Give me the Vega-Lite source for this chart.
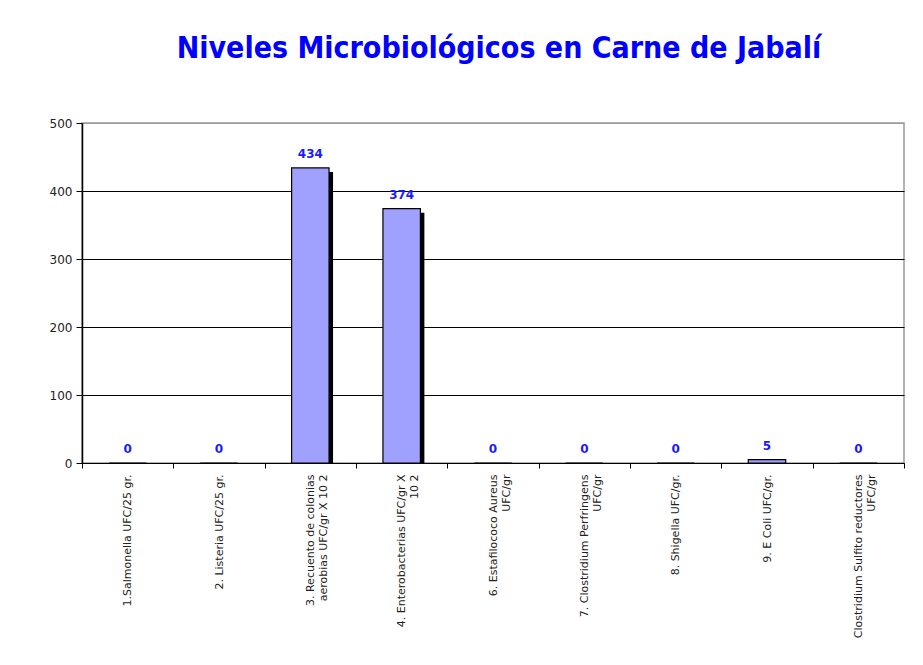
{
  "$schema": "https://vega.github.io/schema/vega-lite/v6.json",
  "autosize": {"type": "none"},
  "width": 822,
  "height": 340,
  "padding": {"left": 82, "top": 123, "right": 19, "bottom": 202},
  "background": "white",
  "title": {
    "text": "Niveles Microbiológicos en Carne de Jabalí",
    "font": "DejaVu Sans Condensed",
    "fontSize": 30,
    "fontWeight": "bold",
    "color": "#0000FF",
    "anchor": "middle",
    "frame": "group",
    "dx": 6,
    "offset": 53
  },
  "data": {
    "values": [
      {"cat": "1.Salmonella UFC/25 gr.", "v": 0},
      {"cat": "2. Listeria UFC/25 gr.", "v": 0},
      {"cat": "3. Recuento de colonias|aerobias UFC/gr X 10 2", "v": 434},
      {"cat": "4. Enterobacterias UFC/gr X|10 2", "v": 374},
      {"cat": "6. Estafilococo Aureus|UFC/gr", "v": 0},
      {"cat": "7. Clostridium Perfringens|UFC/gr", "v": 0},
      {"cat": "8. Shigella UFC/gr.", "v": 0},
      {"cat": "9. E Coli UFC/gr.", "v": 5},
      {"cat": "Clostridium Sulfito reductores|UFC/gr", "v": 0}
    ]
  },
  "encoding": {
    "x": {
      "field": "cat",
      "type": "nominal",
      "sort": [
        "1.Salmonella UFC/25 gr.",
        "2. Listeria UFC/25 gr.",
        "3. Recuento de colonias|aerobias UFC/gr X 10 2",
        "4. Enterobacterias UFC/gr X|10 2",
        "6. Estafilococo Aureus|UFC/gr",
        "7. Clostridium Perfringens|UFC/gr",
        "8. Shigella UFC/gr.",
        "9. E Coli UFC/gr.",
        "Clostridium Sulfito reductores|UFC/gr"
      ],
      "scale": {"paddingInner": 0, "paddingOuter": 0},
      "axis": {
        "title": null,
        "labelAngle": 270,
        "labelAlign": "right",
        "labelBaseline": "middle",
        "labelExpr": "datum.value ? split(datum.value, '|') : ''",
        "labelFont": "DejaVu Sans",
        "labelFontSize": 11,
        "labelColor": "#222222",
        "labelLimit": 300,
        "labelPadding": 6,
        "labelLineHeight": 13,
        "tickBand": "extent",
        "tickColor": "black",
        "tickSize": 5,
        "domainColor": "black",
        "grid": false
      }
    },
    "y": {
      "field": "v",
      "type": "quantitative",
      "scale": {"domain": [0, 500], "nice": false},
      "axis": {
        "title": null,
        "values": [0, 100, 200, 300, 400, 500],
        "labelFont": "DejaVu Sans",
        "labelFontSize": 12,
        "labelColor": "#222222",
        "labelPadding": 4,
        "tickColor": "black",
        "tickSize": 6,
        "domainColor": "black",
        "domainWidth": 1.5,
        "grid": true,
        "gridColor": {"condition": {"test": "datum.value === 500", "value": "#9a9a9a"}, "value": "black"},
        "gridOpacity": 1,
        "gridWidth": 1
      }
    }
  },
  "layer": [
    {
      "transform": [{"filter": "datum.v > 50"}],
      "mark": {"type": "bar", "fill": "black", "width": {"band": 0.41}, "xOffset": 4, "yOffset": 4, "clip": true}
    },
    {
      "mark": {"type": "bar", "fill": "#A0A0FF", "stroke": "black", "strokeWidth": 1.2, "width": {"band": 0.41}}
    },
    {
      "mark": {"type": "text", "dy": -14, "font": "DejaVu Sans", "fontSize": 12, "fontWeight": "bold", "color": "#1a1aff"},
      "encoding": {"text": {"field": "v", "type": "quantitative"}}
    }
  ],
  "config": {
    "view": {"stroke": "#9a9a9a", "strokeWidth": 1.5}
  }
}
